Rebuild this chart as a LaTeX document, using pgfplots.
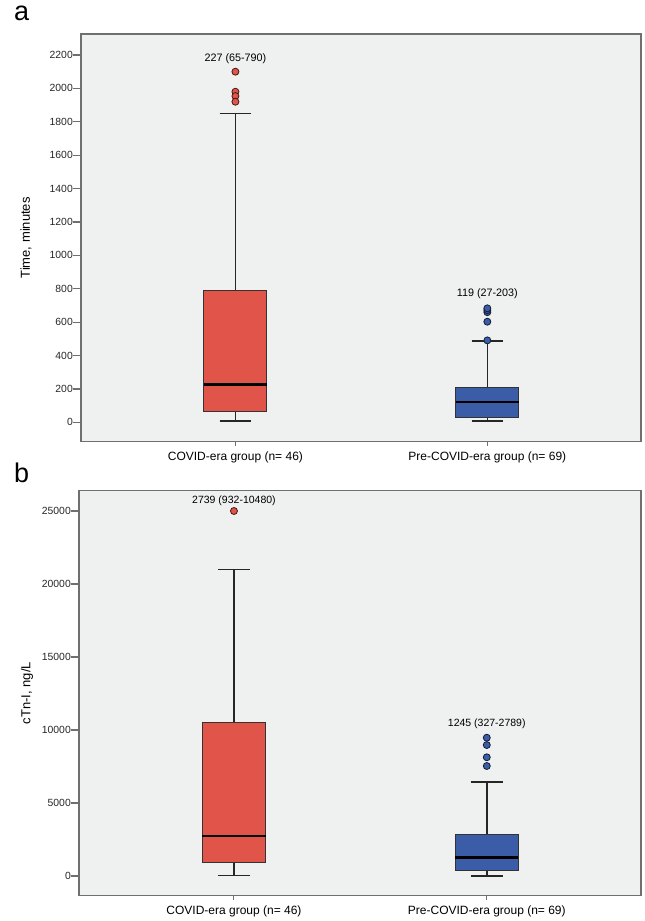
\documentclass[border=0pt]{standalone}
\usepackage{fontspec}
\setmainfont{Liberation Sans}
\usepackage{pgfplots}
\pgfplotsset{compat=1.18}
\usepgfplotslibrary{statistics}
\definecolor{cred}{HTML}{E0544A}
\definecolor{cblue}{HTML}{3B5DA8}
\definecolor{bg}{HTML}{EFF0F0}
\definecolor{frame}{HTML}{6F6F6F}
\pgfplotsset{
 spssbox/.style={
  scale only axis,
  axis background/.style={fill=bg},
  axis line style={frame, line width=1.5bp},
  xmin=0.387, xmax=2.61,
  xtick={1,2},
  xticklabels={COVID-era group (n= 46), Pre-COVID-era group (n= 69)},
  tick align=outside, tick pos=left,
  major tick length=8bp,
  xtick style={/pgfplots/major tick length=4bp, frame, line width=1bp},
  ytick style={frame, line width=1.2bp},
  scaled y ticks=false,
  /pgf/number format/assume math mode=true,
  /pgf/number format/1000 sep={},
  yticklabel style={font=\fontsize{10.4bp}{12bp}\selectfont, color=black!85, inner sep=0pt, anchor=east},
  xticklabel style={font=\fontsize{12bp}{14bp}\selectfont, inner sep=0pt, anchor=base, yshift=-11bp},
  every axis y label/.style={font=\fontsize{13bp}{15bp}\selectfont, rotate=90, anchor=center},
  boxplot/draw direction=y,
  boxplot/box extend=0.25,
  boxplot/whisker extend=0.125,
  boxplot/every median/.style={line width=2.5bp, black},
  boxplot/every whisker/.style={line width=1.6bp, black!85},
  boxplot/every box/.style={draw=black!80, line width=1bp},
  clip=false,
 },
 redbox/.style={draw=black!85, fill=cred, mark=*, mark size=3.5bp, mark options={fill=cred, draw=black!70!cred, line width=0.8bp}},
 bluebox/.style={draw=black!85, fill=cblue, mark=*, mark size=3.5bp, mark options={fill=cblue, draw=black!70!cblue, line width=0.8bp}},
}
\begin{document}
\begin{tikzpicture}
\useasboundingbox (0,0) rectangle (645bp,921bp);
\node[anchor=base west, inner sep=0, font=\fontsize{27bp}{30bp}\selectfont] at (14bp,900.3bp) {a};
\node[anchor=base west, inner sep=0, font=\fontsize{27bp}{30bp}\selectfont] at (14bp,438.3bp) {b};
% panel a
\begin{axis}[spssbox,
  at={(81bp,887bp)}, anchor=north west,
  width=560bp, height=407.7bp,
  ymin=-115.6, ymax=2325.7,
  ytick={0,200,...,2200},
  ylabel={Time, minutes},
  y label style={at={(axis description cs:-0.098,0.5)}},
]
\addplot[redbox, boxplot prepared={draw position=1,
  lower whisker=8, lower quartile=65, median=227,
  upper quartile=790, upper whisker=1850}]
  coordinates {(1,2100) (1,1980) (1,1954) (1,1920)};
\addplot[bluebox, boxplot prepared={draw position=2,
  lower whisker=8, lower quartile=27, median=122,
  upper quartile=208, upper whisker=487}]
  coordinates {(2,491) (2,603) (2,660) (2,672) (2,683)};
\node[font=\fontsize{10.8bp}{13bp}\selectfont] at (axis cs:1,2180) {227 (65-790)};
\node[font=\fontsize{10.8bp}{13bp}\selectfont] at (axis cs:2,773) {119 (27-203)};
\end{axis}
% panel b
\begin{axis}[spssbox,
  at={(79bp,430.5bp)}, anchor=north west,
  width=562bp, height=405.2bp,
  ymin=-1349, ymax=26404,
  ytick={0,5000,...,25000},
  ylabel={cTn-I, ng/L},
  y label style={at={(axis description cs:-0.0925,0.5)}},
]
\addplot[redbox, boxplot prepared={draw position=1,
  lower whisker=30, lower quartile=932, median=2739,
  upper quartile=10480, upper whisker=21000}]
  coordinates {(1,25000)};
\addplot[bluebox, boxplot prepared={draw position=2,
  lower whisker=20, lower quartile=350, median=1260,
  upper quartile=2820, upper whisker=6430}]
  coordinates {(2,9472) (2,8972) (2,8130) (2,7534)};
\node[font=\fontsize{10.5bp}{13bp}\selectfont] at (axis cs:1,25684) {2739 (932-10480)};
\node[font=\fontsize{10.5bp}{13bp}\selectfont] at (axis cs:2,10410) {1245 (327-2789)};
\end{axis}
\end{tikzpicture}
\end{document}
